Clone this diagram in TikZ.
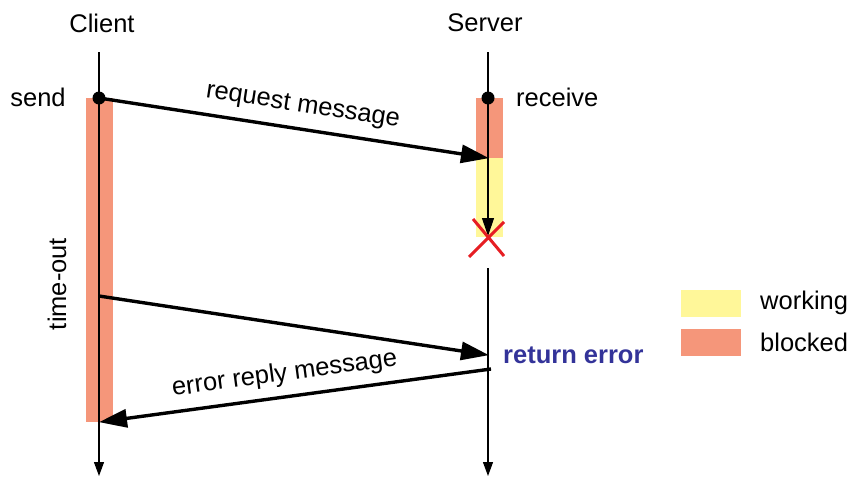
\documentclass[tikz,border=0pt]{standalone}
\usepackage{fontspec}
\setmainfont{Liberation Sans}
\usetikzlibrary{arrows.meta}
\definecolor{blockedc}{RGB}{245,150,122}
\definecolor{workingc}{RGB}{255,247,153}
\definecolor{errblue}{RGB}{51,51,153}
\definecolor{crossred}{RGB}{230,30,35}
\tikzset{
  lbl/.style={font=\fontsize{25.5}{30}\selectfont, inner sep=0pt},
  lifeline/.style={line width=1.1pt, -{Triangle[length=14pt,width=10pt]}},
  msg/.style={line width=3.4pt, -{Triangle[length=28pt,width=18pt]}, shorten >=-1pt},
  dot/.style={circle, fill=black, inner sep=0pt, minimum size=13pt},
}
\begin{document}
\begin{tikzpicture}[x=1pt,y=-1pt]
\useasboundingbox (0,0) rectangle (853,477);
% activity bars
\fill[blockedc] (86,98) rectangle (113,422);
\fill[blockedc] (476,98) rectangle (503,158);
\fill[workingc] (476,158) rectangle (503,237);
% lifelines
\coordinate (ctop) at (99,52);
\coordinate (cbot) at (99,476);
\coordinate (stop) at (488,52);
\coordinate (sx) at (488,236);
\coordinate (sres) at (488,268);
\coordinate (sbot) at (488,476);
\draw[lifeline] (ctop) -- (cbot);
\draw[line width=1.1pt] (stop) -- (488,160);
\draw[lifeline] (sres) -- (sbot);
% headings
\node[lbl] (client) at (102,23) {Client};
\node[lbl] (server) at (485,23) {Server};
\node[lbl] (send) at (38,97) {send};
\node[lbl, anchor=west] (recv) at (516,97) {receive};
\node[lbl, rotate=90] (timeout) at (57,284) {time-out};
% send / receive points
\node[dot] (snd) at (99,98) {};
\node[dot] (rcv) at (488,98) {};
% messages
\coordinate (rin) at (488,158);
\coordinate (tstart) at (99,296);
\coordinate (tend) at (488,355);
\coordinate (estart) at (491,369);
\coordinate (eend) at (100,422);
\draw[msg] (snd.center) -- node[lbl, pos=0.515, above=10pt, sloped] (reqtxt) {request message} (rin);
\draw[line width=1.1pt, -{Triangle[length=18pt,width=12pt]}] (rin) -- (sx);
\draw[msg] (tstart) -- (tend);
\draw[msg] (estart) -- node[lbl, pos=0.52, above=9pt, sloped] (errtxt) {error reply message} (eend);
\node[lbl, anchor=west, text=errblue, font=\fontsize{25.5}{30}\selectfont\bfseries] (reterr) at (503,355) {return error};
% crash mark
\draw[crossred, line width=3pt] (469,257) -- (504,222) (473,219) -- (504,256);
% legend
\node[fill=workingc, minimum width=60pt, minimum height=27pt, inner sep=0pt] (lgw) at (711,303) {};
\node[fill=blockedc, minimum width=60pt, minimum height=27pt, inner sep=0pt] (lgb) at (711,342) {};
\node[lbl, anchor=west] (lgwt) at (760,303) {working};
\node[lbl, anchor=west] (lgbt) at (760,342) {blocked};
\end{tikzpicture}
\end{document}
